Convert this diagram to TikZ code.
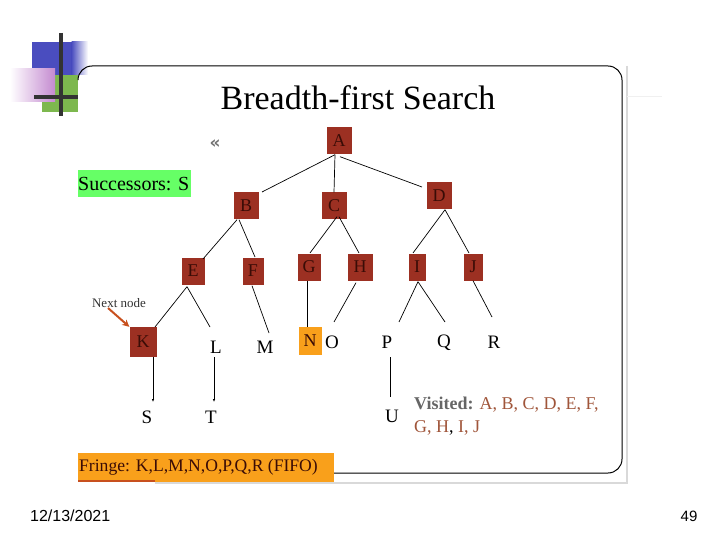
\documentclass[tikz,border=0pt]{standalone}
\usepackage{fontspec}
\setmainfont{Liberation Serif}
\newfontfamily\footfont{Liberation Sans}
\newfontfamily\symfont{DejaVu Sans}
\usetikzlibrary{arrows.meta}
\definecolor{nodered}{HTML}{9C3022}
\definecolor{nodetext}{HTML}{3A0C06}
\definecolor{fringe}{HTML}{F9A01B}
\definecolor{succ}{HTML}{66FF66}
\definecolor{visbrown}{HTML}{A0553A}
\definecolor{visgray}{HTML}{666666}
\definecolor{logoblue}{HTML}{4A4DBF}
\definecolor{logogreen}{HTML}{7DB84E}
\definecolor{logopink}{HTML}{C48AD0}
\definecolor{arrowred}{HTML}{C8501E}
\tikzset{
  tnode/.style={fill=nodered, text=nodetext, minimum height=27, minimum width=25, inner sep=0pt, font=\fontsize{18}{18}\selectfont},
  leaf/.style={inner sep=0pt, font=\fontsize{19}{19}\selectfont},
  edge/.style={line width=0.7pt},
  tipedge/.style={line width=0.7pt, -{Latex[length=3pt,width=2.5pt]}},
}
\begin{document}
\begin{tikzpicture}[x=1pt,y=-1pt]
\useasboundingbox (0,0) rectangle (720,540);
\fill[white] (0,0) rectangle (720,540);
% logo
\fill[logoblue] (32,42) rectangle (72,75);
\shade[left color=logoblue, right color=white] (71.5,42) rectangle (88,75);
\fill[logogreen] (42,75) rectangle (78,112);
\shade[left color=white, right color=logopink] (10,69) rectangle (55,102);
\draw[line width=3.5pt, black!80] (61,33) -- (61,116);
\draw[line width=3.5pt, black!80] (34,97) -- (78,97);
% frame shadows
\draw[line width=2pt, black!15] (627,66) -- (627,483) -- (155,483);
\draw[line width=1pt, black!6] (627,97) -- (662,97);
% frame
\draw[line width=1pt, rounded corners=14] (78,78) -- (78,66) -- (622,66) -- (622,473) -- (330,473);
% title
\node[font=\fontsize{34}{34}\selectfont] (title) at (358,98) {Breadth-first Search};
\node[text=black!55, font=\symfont\bfseries\fontsize{17}{17}\selectfont] (guil) at (215,144) {«};
% successors
\fill[succ] (78,170) rectangle (191,197);
\node[inner sep=0pt, anchor=west, font=\fontsize{20}{20}\selectfont] (succ) at (78,184) {Successors: S};
% tree nodes
\node[tnode] (A) at (339,141) {A};
\node[tnode] (B) at (246,206) {B};
\node[tnode] (C) at (334,206) {C};
\node[tnode] (D) at (439,196) {D};
\node[tnode, minimum width=23] (E) at (193,271) {E};
\node[tnode, minimum width=21] (F) at (253,271) {F};
\node[tnode, minimum width=23] (G) at (309,267) {G};
\node[tnode] (H) at (360,267) {H};
\node[tnode, minimum width=17] (I) at (417,267) {I};
\node[tnode, minimum width=19] (J) at (473,267) {J};
\node[tnode, minimum width=27, minimum height=30] (K) at (143,342) {K};
\node[tnode, fill=fringe, minimum width=23, minimum height=28] (N) at (310,341) {N};
\node[leaf] (L) at (216,347) {L};
\node[leaf] (M) at (265,347) {M};
\node[leaf] (O) at (332,342) {O};
\node[leaf] (P) at (387,342) {P};
\node[leaf] (Q) at (444,343) {Q};
\node[leaf] (R) at (494,342) {R};
\node[leaf] (S) at (147,417) {S};
\node[leaf] (T) at (211,417) {T};
\node[leaf] (U) at (392,416) {U};
% edge end coordinates
\coordinate (aB) at (262,192);
\coordinate (aD) at (422,187);
\coordinate (bE) at (203,259);
\coordinate (bF) at (255,257);
\coordinate (cG) at (310,253);
\coordinate (cH) at (359,253);
\coordinate (dI) at (413,253);
\coordinate (dJ) at (469,253);
\coordinate (eK) at (155,327);
\coordinate (eL) at (210,327);
\coordinate (fM) at (269,333);
\coordinate (hO) at (334,322);
\coordinate (iP) at (399,322);
\coordinate (iQ) at (445,322);
\coordinate (jR) at (492,317);
\coordinate (kS) at (153,402);
\coordinate (lT) at (214,402);
\coordinate (lTs) at (214,357);
\coordinate (pU) at (390,397);
\coordinate (pUs) at (390,357);
\draw[edge] (A.south) ++(-4,0) -- (aB);
\draw[edge] (A.south) ++(-4,0) -- (C.north);
\draw[edge] (A.south) ++(1,2) -- (aD);
\draw[edge] (B.south) ++(-9,0) -- (bE);
\draw[edge] (B.south) ++(-7,0) -- (bF);
\draw[edge] (C.south) ++(3,-3) -- (cG);
\draw[edge] (C.south) ++(5,-3) -- (cH);
\draw[edge] (D.south) ++(6,0) -- (dI);
\draw[edge] (D.south) ++(6,0) -- (dJ);
\draw[edge] (E.south) ++(-6,2) -- (eK);
\draw[edge] (E.south) ++(-6,2) -- (eL);
\draw[edge] (F.south) ++(-1,1) -- (fM);
\draw[edge] (G.south) ++(-2,0) -- (N.north -| 307,0);
\draw[edge] (H.south) ++(-4,2) -- (hO);
\draw[edge] (I.south) ++(1,1) -- (iP);
\draw[edge] (I.south) ++(1,1) -- (iQ);
\draw[edge] (J.south) -- (jR);
\draw[tipedge] (K.south) ++(10,0) -- (kS);
\draw[tipedge] (lTs) -- (lT);
\draw[edge] (pUs) -- (pU);
% next node
\node[text=black!80, font=\fontsize{13}{13}\selectfont] (next) at (119,303) {Next node};
\coordinate (nxA) at (108,308);
\draw[arrowred, line width=2pt, -{Stealth[length=7pt,width=7pt]}] (nxA) -- (K.north west);
% visited
\node[anchor=north west, align=left, inner sep=0pt, text=visbrown, font=\fontsize{18}{23}\selectfont] (vis) at (414,397)
  {\textcolor{visgray}{\textbf{Visited:}} A, B, C, D, E, F,\\G, H\textcolor{black}{,} I, J};
% fringe
\fill[fringe] (78,453) rectangle (334,482);
\draw[line width=2pt, arrowred] (78,481) -- (155,481);
\node[anchor=west, inner sep=0pt, text=nodetext, font=\fontsize{17.6}{18}\selectfont] (fr) at (79,467) {Fringe: K,L,M,N,O,P,Q,R (FIFO)};
% footer
\node[anchor=west, inner sep=0pt, font=\footfont\fontsize{16}{16}\selectfont] (date) at (30,516) {12/13/2021};
\node[inner sep=0pt, font=\footfont\fontsize{15}{15}\selectfont] (page) at (689,516) {49};
\end{tikzpicture}
\end{document}
